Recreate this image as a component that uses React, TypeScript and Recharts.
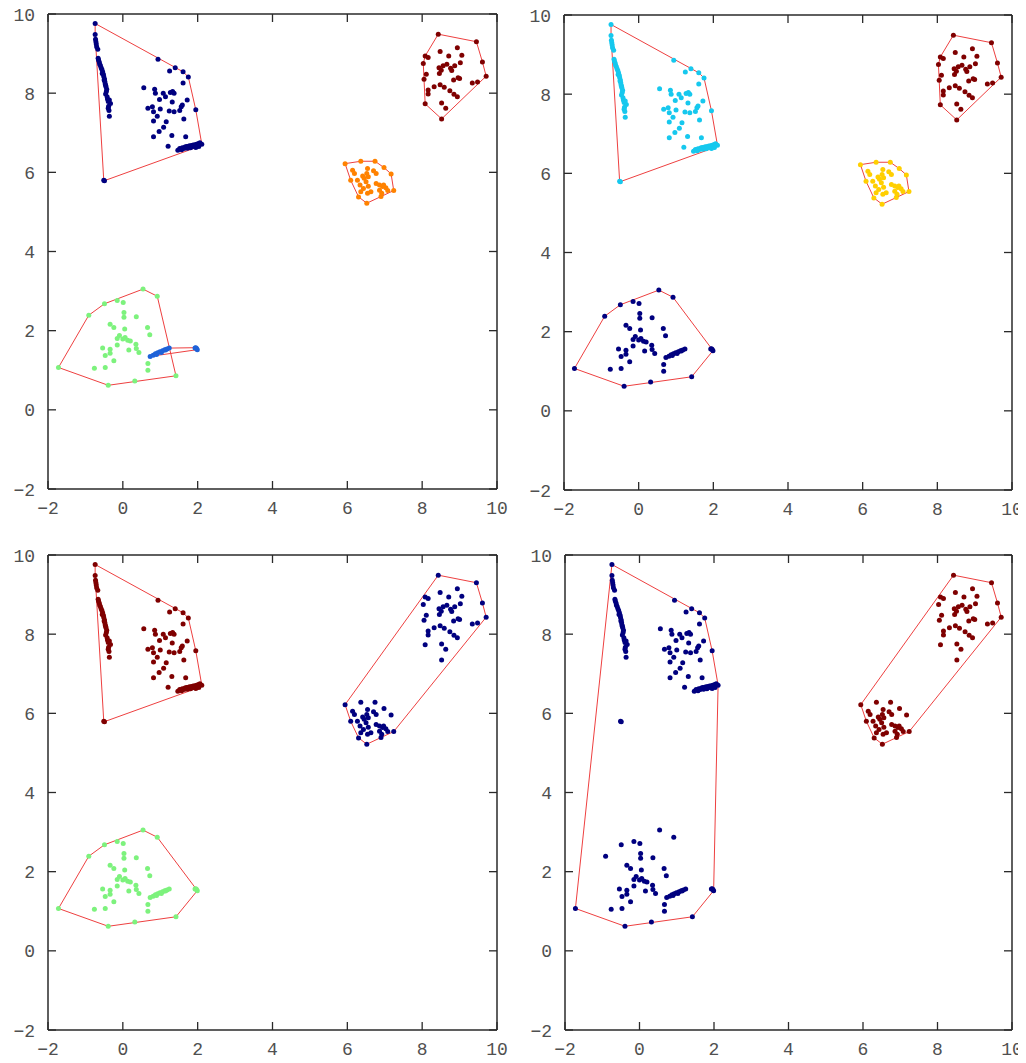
import React from 'react';
import { ComposedChart, Scatter, Line, XAxis, YAxis } from 'recharts';

type P = [number, number];

// point groups (same data in every panel, only the grouping changes)
const streakA: P[] = [
  [-0.74, 9.76], [-0.74, 9.48], [-0.73, 9.36], [-0.72, 9.3], [-0.71, 9.24], [-0.7, 9.17], [-0.67, 9.11],
  [-0.66, 8.88], [-0.65, 8.84], [-0.63, 8.79], [-0.62, 8.74], [-0.6, 8.7], [-0.58, 8.64], [-0.56, 8.6],
  [-0.55, 8.5], [-0.54, 8.54], [-0.52, 8.48], [-0.51, 8.42], [-0.49, 8.36], [-0.5, 8.33], [-0.48, 8.29],
  [-0.47, 8.23], [-0.46, 8.2], [-0.45, 8.16], [-0.43, 8.1], [-0.44, 8.04], [-0.46, 7.98], [-0.42, 7.91],
  [-0.41, 7.85], [-0.39, 7.79], [-0.36, 7.83], [-0.33, 7.74], [-0.38, 7.67], [-0.39, 7.62], [-0.37, 7.56],
  [-0.36, 7.42],
];

const pointB: P[] = [[-0.51, 5.8], [-0.49, 5.79]];

const scatterC: P[] = [
  [0.94, 8.86], [1.4, 8.64], [1.61, 8.54], [1.75, 8.41], [1.95, 7.58], [1.25, 8.56], [1.61, 8.26],
  [0.56, 8.14], [0.85, 8.1], [0.87, 8.0], [1.08, 8.0], [0.98, 7.84], [1.14, 7.91], [1.27, 8.02],
  [1.33, 8.04], [1.37, 8.0], [1.32, 7.78], [1.72, 7.83], [0.67, 7.62], [0.79, 7.66], [0.82, 7.53],
  [1.0, 7.6], [1.24, 7.55], [1.37, 7.53], [1.52, 7.56], [1.56, 7.66], [1.59, 7.7], [0.92, 7.42],
  [0.82, 7.3], [1.16, 7.28], [1.63, 7.35], [1.09, 7.14], [0.97, 7.03], [1.31, 6.93], [0.82, 6.9],
  [1.68, 6.9], [1.21, 6.66], [1.47, 6.56],
];

const streakD: P[] = [
  [1.52, 6.6], [1.59, 6.62], [1.66, 6.64], [1.7, 6.65], [1.75, 6.66], [1.79, 6.67], [1.84, 6.68],
  [1.88, 6.69], [1.93, 6.7], [1.97, 6.71], [2.02, 6.73], [2.06, 6.75], [2.11, 6.71], [2.03, 6.65],
  [1.95, 6.63], [1.88, 6.65], [1.81, 6.62], [1.72, 6.61], [1.63, 6.6], [1.57, 6.57],
];

const clusterE: P[] = [
  [8.43, 9.49], [9.45, 9.3], [9.61, 8.79], [9.71, 8.43], [8.52, 7.35], [8.08, 7.73], [8.05, 8.35],
  [8.03, 8.75], [8.08, 8.94], [8.16, 8.9], [8.48, 9.05], [8.71, 8.94], [8.94, 9.15], [9.06, 8.96],
  [9.02, 8.77], [8.87, 8.69], [8.76, 8.63], [8.66, 8.73], [8.56, 8.69], [8.45, 8.64], [8.51, 8.58],
  [8.79, 8.57], [8.46, 8.5], [8.11, 8.48], [8.84, 8.33], [8.96, 8.39], [9.0, 8.37], [9.34, 8.26],
  [9.48, 8.28], [8.48, 8.21], [8.59, 8.15], [8.32, 8.16], [8.16, 8.08], [8.16, 7.98], [8.74, 8.06],
  [8.85, 7.97], [8.94, 7.91], [8.52, 7.75], [8.63, 7.62],
];

const clusterF: P[] = [
  [5.94, 6.22], [6.36, 6.28], [6.74, 6.28], [6.98, 6.12], [7.17, 5.96], [7.24, 5.54], [6.9, 5.39],
  [6.52, 5.22], [6.3, 5.38], [6.09, 5.8], [6.14, 6.05], [6.19, 5.97], [6.27, 5.8], [6.41, 5.91],
  [6.54, 6.1], [6.52, 5.97], [6.45, 5.85], [6.5, 5.76], [6.56, 5.89], [6.7, 6.04], [6.77, 5.97],
  [6.77, 5.72], [6.56, 5.65], [6.36, 5.51], [6.54, 5.47], [6.63, 5.51], [6.86, 5.68], [6.94, 5.64],
  [7.03, 5.61], [7.08, 5.54], [6.86, 5.55], [6.92, 5.47], [6.43, 5.59], [6.34, 5.68], [6.97, 5.68],
];

const clusterG: P[] = [
  [-1.72, 1.07], [-0.91, 2.39], [-0.49, 2.68], [0.54, 3.05], [0.92, 2.87], [1.42, 0.86], [0.32, 0.73],
  [-0.39, 0.62], [-0.15, 2.76], [0.01, 2.71], [0.03, 2.46], [0.03, 2.34], [0.36, 2.35], [-0.34, 2.16],
  [-0.24, 2.08], [0.05, 2.04], [0.66, 2.08], [0.72, 1.9], [-0.09, 1.88], [-0.15, 1.8], [0.0, 1.79],
  [0.06, 1.83], [0.13, 1.76], [0.2, 1.74], [-0.15, 1.64], [-0.54, 1.56], [-0.34, 1.53], [-0.34, 1.43],
  [-0.47, 1.37], [-0.24, 1.24], [0.16, 1.51], [0.35, 1.66], [0.36, 1.55], [0.43, 1.45], [0.67, 1.17],
  [0.67, 1.0], [-0.47, 1.07], [-0.76, 1.05],
];

const streakH: P[] = [
  [0.73, 1.35], [0.81, 1.38], [0.87, 1.42], [0.93, 1.44], [0.99, 1.47], [1.06, 1.49], [1.12, 1.52],
  [1.18, 1.54], [1.24, 1.56], [1.03, 1.45], [0.9, 1.4], [1.14, 1.51], [1.93, 1.56], [1.97, 1.55],
  [1.99, 1.52], [1.95, 1.57],
];

const axisTicks = [-2, 0, 2, 4, 6, 8, 10];

const NAVY = '#00007f';
const DARKRED = '#7f0000';
const ORANGE = '#ff8200';
const GREEN = '#7df27d';
const BLUE = '#1f62d8';
const CYAN = '#16c8ee';
const YELLOW = '#ffcf00';

// clusters per panel: which groups, which colour
const panel1 = [
  { groups: [streakA, pointB, scatterC, streakD], color: NAVY },
  { groups: [clusterE], color: DARKRED },
  { groups: [clusterF], color: ORANGE },
  { groups: [clusterG], color: GREEN },
  { groups: [streakH], color: BLUE },
];
const panel2 = [
  { groups: [streakA, pointB, scatterC, streakD], color: CYAN },
  { groups: [clusterE], color: DARKRED },
  { groups: [clusterF], color: YELLOW },
  { groups: [clusterG, streakH], color: NAVY },
];
const panel3 = [
  { groups: [streakA, pointB, scatterC, streakD], color: DARKRED },
  { groups: [clusterE, clusterF], color: NAVY },
  { groups: [clusterG, streakH], color: GREEN },
];
const panel4 = [
  { groups: [streakA, pointB, scatterC, streakD, clusterG, streakH], color: NAVY },
  { groups: [clusterE, clusterF], color: DARKRED },
];

type Pt = { x: number; y: number };

// convex hull (monotone chain), returned closed
function convexHull(pts: Pt[]): Pt[] {
  const s = [...pts].sort((a, b) => a.x - b.x || a.y - b.y);
  const cross = (o: Pt, a: Pt, b: Pt) => (a.x - o.x) * (b.y - o.y) - (a.y - o.y) * (b.x - o.x);
  const lower: Pt[] = [];
  for (const p of s) {
    while (lower.length >= 2 && cross(lower[lower.length - 2], lower[lower.length - 1], p) <= 0) lower.pop();
    lower.push(p);
  }
  const upper: Pt[] = [];
  for (let i = s.length - 1; i >= 0; i--) {
    const p = s[i];
    while (upper.length >= 2 && cross(upper[upper.length - 2], upper[upper.length - 1], p) <= 0) upper.pop();
    upper.push(p);
  }
  const h = lower.slice(0, -1).concat(upper.slice(0, -1));
  return [...h, h[0]];
}

const fmt = (v: number) => (v < 0 ? `\u2212${Math.abs(v)}` : `${v}`);

const FONT = '"Liberation Mono", "DejaVu Sans Mono", monospace';
const INK = '#2a2a2a';
const TICK = 8;

// ticks point into the plot; with tickSize 0 and tickMargin 0 the tick x/y is the axis line
const BottomTick = (p: any) => (
  <g>
    <line x1={p.x} x2={p.x} y1={p.y} y2={p.y - TICK} stroke={INK} strokeWidth={1.3} />
    <text x={p.x} y={p.y + 25} textAnchor="middle" fill="#505050" fontSize={18} fontFamily={FONT}>
      {fmt(p.payload.value)}
    </text>
  </g>
);
const LeftTick = (p: any) => (
  <g>
    <line x1={p.x} x2={p.x + TICK} y1={p.y} y2={p.y} stroke={INK} strokeWidth={1.3} />
    <text x={p.x - 13} y={p.y + 6.5} textAnchor="end" fill="#505050" fontSize={18} fontFamily={FONT}>
      {fmt(p.payload.value)}
    </text>
  </g>
);
const TopTick = (p: any) => (
  <line x1={p.x} x2={p.x} y1={p.y} y2={p.y + TICK} stroke={INK} strokeWidth={1.3} />
);
const RightTick = (p: any) => (
  <line x1={p.x} x2={p.x - TICK} y1={p.y} y2={p.y} stroke={INK} strokeWidth={1.3} />
);

const frame = { stroke: INK, strokeWidth: 1.5 };

interface PanelProps {
  clusters: { groups: P[][]; color: string }[];
  left: number;
  top: number;
  height: number;
  // plot-box edges inside the 513 wide chart
  box: { top: number; right: number; bottom: number; left: number };
}

const Panel: React.FC<PanelProps> = ({ clusters, left, top, height, box }) => {
  const sets = clusters.map(c => ({
    color: c.color,
    points: c.groups.flat().map(([x, y]) => ({ x, y })),
  }));
  const common = {
    type: 'number' as const, domain: [-2, 10], ticks: axisTicks, interval: 0,
    tickSize: 0, tickMargin: 0, tickLine: false, axisLine: frame,
  };
  return (
    <div style={{ position: 'absolute', left, top }}>
      <ComposedChart width={513} height={height} margin={{ top: 0, right: 0, bottom: 0, left: 0 }}>
        <XAxis {...common} xAxisId="b" dataKey="x" orientation="bottom" height={box.bottom} tick={BottomTick} />
        <XAxis {...common} xAxisId="t" dataKey="x" orientation="top" height={box.top} tick={TopTick} />
        <YAxis {...common} yAxisId="l" dataKey="y" orientation="left" width={box.left} tick={LeftTick} />
        <YAxis {...common} yAxisId="r" dataKey="y" orientation="right" width={box.right} tick={RightTick} />
        {sets.map((s, i) => (
          <Line
            key={`hull-${i}`}
            xAxisId="t"
            yAxisId="r"
            data={convexHull(s.points)}
            dataKey="y"
            type="linear"
            stroke="#ee4040"
            strokeWidth={1}
            dot={false}
            activeDot={false}
            isAnimationActive={false}
          />
        ))}
        {sets.map((s, i) => (
          <Scatter
            key={`pts-${i}`}
            xAxisId="b"
            yAxisId="l"
            data={s.points}
            isAnimationActive={false}
            shape={(p: any) => <circle cx={p.cx} cy={p.cy} r={2.5} fill={s.color} />}
          />
        ))}
      </ComposedChart>
    </div>
  );
};

export default function App() {
  return (
    <div style={{ position: 'relative', width: 1026, height: 1063, margin: -8, background: '#fff' }}>
      <Panel clusters={panel1} left={0} top={0} height={530} box={{ top: 14, right: 16, bottom: 41, left: 48 }} />
      <Panel clusters={panel2} left={513} top={0} height={530} box={{ top: 15, right: 14, bottom: 40, left: 51 }} />
      <Panel clusters={panel3} left={0} top={530} height={533} box={{ top: 25, right: 16, bottom: 33, left: 48 }} />
      <Panel clusters={panel4} left={513} top={530} height={533} box={{ top: 25, right: 14, bottom: 33, left: 52 }} />
    </div>
  );
}
